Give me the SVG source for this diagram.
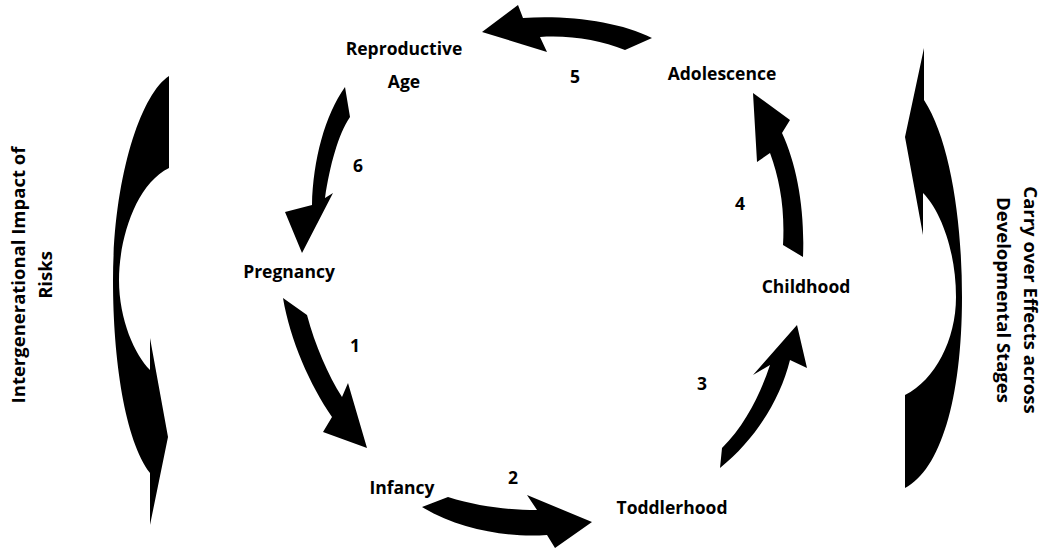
<svg xmlns="http://www.w3.org/2000/svg" width="1050" height="552" viewBox="0 0 1050 552">
<style>
text{font-family:"Open Sans","Liberation Sans",Arial,sans-serif;font-weight:bold;font-size:17.5px;fill:#000;text-anchor:middle}
.r{font-size:18.5px}
.a{fill:#000;stroke:none}
</style>
<rect width="1050" height="552" fill="#fff"/>
<g id="connectors">
<path class="a" d="M482,32 L518,5 L523,18 C570,15 620,22 652,38 L625,50 C600,40 570,35 540,37 L547,52 Z"/>
<path class="a" d="M345,87 L350,117 C338,135 330,165 325,198 L333,193 L302,253 L285,212 L312,205 C313,160 325,115 345,87 Z"/>
<path class="a" d="M283,298 L307,315 C315,345 328,375 342,397 L348,383 L367,448 L323,432 L332,417 C310,385 290,340 283,298 Z"/>
<path class="a" d="M422,507 L448,497 C480,507 510,510 537,510 L527,495 L592,522 L555,548 L547,535 C510,538 460,530 422,507 Z"/>
<path class="a" d="M722,448 C745,425 760,395 770,365 L753,375 L797,325 L807,368 L790,360 C780,400 755,440 720,468 Z"/>
<path class="a" d="M783,245 C785,210 780,180 770,153 L757,162 L753,93 L790,120 L782,133 C797,165 805,210 803,257 Z"/>
<path class="a" d="M169,76 L169,168 C135,185 119,240 119,280 C119,320 135,355 150,370 L150,338 L168,437 L150,525 L150,473 C125,440 113,360 113,280 C113,180 140,95 169,76 Z"/>
<path class="a" d="M924,48 L924,100 C950,140 962,220 962,297 C962,400 940,470 905,488 L905,395 C935,380 956,340 956,297 C956,250 940,210 923,193 L923,235 L905,137 Z"/>
<text x="575" y="83">5</text>
<text x="358" y="172">6</text>
<text x="355" y="352">1</text>
<text x="513" y="484">2</text>
<text x="702" y="390">3</text>
<text x="740" y="210">4</text>
</g>
<g id="reproductive"><text x="404" y="55">Reproductive</text><text x="404" y="88">Age</text></g>
<g id="adolescence"><text x="722" y="80">Adolescence</text></g>
<g id="pregnancy"><text x="289" y="278">Pregnancy</text></g>
<g id="infancy"><text x="402" y="494">Infancy</text></g>
<g id="toddlerhood"><text x="672" y="514">Toddlerhood</text></g>
<g id="childhood"><text x="806" y="293">Childhood</text></g>
<g id="left-label"><text class="r" transform="translate(25,275) rotate(-90)">Intergenerational Impact of</text><text class="r" transform="translate(52,275) rotate(-90)">Risks</text></g>
<g id="right-label"><text class="r" transform="translate(1024,300) rotate(90)">Carry over Effects across</text><text class="r" transform="translate(997,300) rotate(90)">Developmental Stages</text></g>
</svg>
